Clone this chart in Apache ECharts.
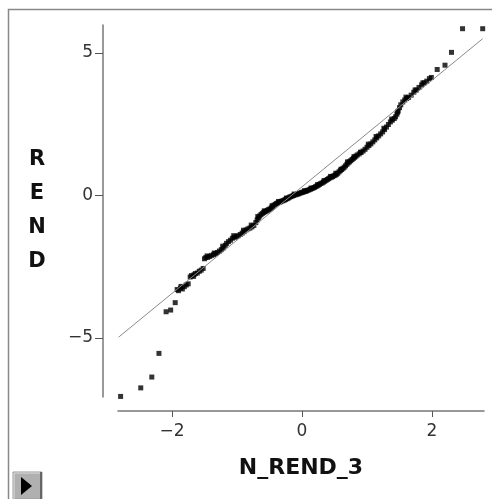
<!DOCTYPE html>
<html><head><meta charset="utf-8">
<script src="https://cdn.jsdelivr.net/npm/echarts@6/dist/echarts.min.js"></script>
<style>html,body{margin:0;padding:0;background:#fff}#c{width:492px;height:499px}</style>
</head><body><div id="c"></div>
<script>
const qqPoints = [
[-2.79,-7.05],[-2.48,-6.75],[-2.31,-6.37],[-2.20,-5.54],[-2.09,-4.08],[-2.02,-4.02],[-1.95,-3.76],
[-1.92,-3.30],[-1.90,-3.34],[-1.87,-3.25],[-1.84,-3.28],[-1.81,-3.20],[-1.78,-3.14],[-1.75,-3.10],[-1.72,-2.86],[-1.70,-2.81],[-1.67,-2.84],[-1.64,-2.74],[-1.61,-2.72],[-1.58,-2.66],[-1.55,-2.62],[-1.52,-2.56],
[-1.50,-2.22],[-1.48,-2.18],[-1.45,-2.17],[-1.42,-2.14],[-1.39,-2.10],[-1.36,-2.08],[-1.33,-2.04],[-1.30,-2.00],[-1.27,-1.95],[-1.24,-1.90],[-1.21,-1.84],[-1.18,-1.75],[-1.16,-1.68],[-1.13,-1.62],[-1.10,-1.57],[-1.07,-1.50],[-1.04,-1.47],[-1.01,-1.44],[-0.98,-1.41],[-0.95,-1.37],[-0.92,-1.32],[-0.89,-1.27],[-0.86,-1.21],[-0.83,-1.17],[-0.80,-1.14],[-0.77,-1.10],[-0.74,-1.05],[-0.71,-0.95],[-0.69,-0.86],[-0.67,-0.79],[-0.65,-0.72],[-0.63,-0.67],[-0.61,-0.63],[-0.59,-0.60],[-0.57,-0.57],[-0.55,-0.55],[-0.53,-0.52],[-0.51,-0.49],[-0.49,-0.47],[-0.47,-0.43],[-0.45,-0.38],[-0.43,-0.34],[-0.41,-0.31],[-0.39,-0.28],[-0.37,-0.26],[-0.35,-0.24],[-0.33,-0.22],[-0.31,-0.20],[-0.29,-0.18],[-0.27,-0.16],[-0.25,-0.14],[-0.23,-0.11],[-0.21,-0.09],[-0.19,-0.06],[-0.17,-0.04],[-0.15,-0.02],[-0.13,0.00],[-0.11,0.02],[-0.09,0.03],[-0.07,0.05],[-0.05,0.06],[-0.03,0.08],[-0.01,0.10],
[0.01,0.11],[0.03,0.13],[0.05,0.14],[0.07,0.16],[0.09,0.18],[0.11,0.20],[0.13,0.22],[0.15,0.24],[0.17,0.26],[0.19,0.28],[0.21,0.31],[0.23,0.33],[0.25,0.36],[0.27,0.39],[0.29,0.42],[0.31,0.44],[0.33,0.47],[0.35,0.50],[0.37,0.53],[0.39,0.56],[0.41,0.59],[0.43,0.62],[0.45,0.64],[0.47,0.66],[0.49,0.69],[0.51,0.71],[0.53,0.74],[0.55,0.78],[0.57,0.83],[0.59,0.87],[0.61,0.91],[0.63,0.95],[0.65,0.99],[0.67,1.04],[0.69,1.09],[0.71,1.14],[0.73,1.18],[0.75,1.22],[0.77,1.26],[0.79,1.30],[0.81,1.34],[0.83,1.38],[0.85,1.42],[0.88,1.46],[0.91,1.51],[0.94,1.56],[0.97,1.62],[1.00,1.69],[1.03,1.75],[1.06,1.81],[1.09,1.88],[1.12,1.95],[1.15,2.02],[1.18,2.09],[1.21,2.16],[1.24,2.23],[1.27,2.31],[1.30,2.40],[1.33,2.49],[1.36,2.58],[1.39,2.64],[1.42,2.70],[1.44,2.76],[1.46,2.85],[1.48,2.96],[1.50,3.08],[1.52,3.18],[1.55,3.28],[1.58,3.35],[1.61,3.40],[1.64,3.44],[1.68,3.52],[1.72,3.62],[1.76,3.70],[1.80,3.79],[1.84,3.88],[1.88,3.95],[1.92,4.01],[1.96,4.10],[1.99,4.14],
[2.08,4.42],[2.20,4.57],[2.30,5.02],[2.47,5.85],[2.78,5.85],
// second row of the thick band
[-1.86,-3.19],[-1.66,-2.78],[-1.46,-2.12],[-1.35,-2.02],[-1.22,-1.78],[-1.05,-1.41],[-0.90,-1.22],[-0.78,-1.04],[-0.68,-0.74],[-0.58,-0.54],[-0.46,-0.36],[-0.36,-0.21],[-0.24,-0.09],[-0.12,0.05],
[0.04,0.17],[0.14,0.26],[0.24,0.38],[0.34,0.52],[0.44,0.67],[0.52,0.78],[0.60,0.92],[0.70,1.18],[0.80,1.36],[0.90,1.52],[1.02,1.80],[1.14,2.07],[1.26,2.36],[1.38,2.68],[1.47,2.92],[1.60,3.45],[1.74,3.70],[1.86,3.95]
];
// Reference line end points
const refLine = [[-2.82,-4.97],[2.78,5.50]];
const xTicks = [-2, 0, 2];
const yTicks = [-5, 0, 5];
const xName = 'N_REND_3';
const yName = 'R\nE\nN\nD';

const fmt = v => String(v).replace('-', '\u2212');
const chart = echarts.init(document.getElementById('c'), null, {renderer: 'canvas'});
const axisFont = {fontFamily: 'DejaVu Sans', fontSize: 17, color: '#333'};
chart.setOption({
  animation: false,
  backgroundColor: '#fff',
  grid: {left: 118, right: 8, top: 25, bottom: 102},
  xAxis: {
    type: 'value', min: -2.83, max: 2.8, offset: 14,
    name: xName, nameLocation: 'middle', nameGap: 46,
    nameTextStyle: {fontFamily: 'DejaVu Sans', fontWeight: 'bold', fontSize: 22, color: '#111'},
    axisLine: {onZero: false, lineStyle: {color: '#777', width: 1.5}},
    axisTick: {customValues: xTicks, length: 6, lineStyle: {color: '#555'}},
    axisLabel: Object.assign({customValues: xTicks, margin: 12, formatter: fmt}, axisFont),
    splitLine: {show: false}
  },
  yAxis: {
    type: 'value', min: -7.07, max: 5.98, offset: 15,
    name: yName, nameLocation: 'middle', nameGap: 66, nameRotate: 0,
    nameTextStyle: {fontFamily: 'DejaVu Sans', fontWeight: 'bold', fontSize: 21, color: '#111', lineHeight: 34, align: 'center', verticalAlign: 'middle'},
    axisLine: {onZero: false, lineStyle: {color: '#777', width: 1.5}},
    axisTick: {customValues: yTicks, length: 8, lineStyle: {color: '#555'}},
    axisLabel: Object.assign({customValues: yTicks, margin: 10, formatter: fmt}, axisFont),
    splitLine: {show: false}
  },
  series: [
    {type: 'line', data: refLine, symbol: 'none', silent: true,
     lineStyle: {color: '#8a8a8a', width: 1}},
    {type: 'scatter', data: qqPoints, symbol: 'rect', symbolSize: 5,
     itemStyle: {color: '#000'}}
  ],
  graphic: [
    {type: 'rect', shape: {x: 8.5, y: 9.5, width: 600, height: 600},
     style: {fill: 'none', stroke: '#888', lineWidth: 1.5}, silent: true},
    {type: 'group', silent: true, children: [
      {type: 'rect', shape: {x: 13, y: 472, width: 29, height: 27}, style: {fill: '#b0b0b0', stroke: '#999', lineWidth: 1}},
      {type: 'polyline', shape: {points: [[41, 472], [41, 499]]}, style: {stroke: '#666', lineWidth: 2}},
      {type: 'polyline', shape: {points: [[14, 499], [14, 473], [40, 473]]}, style: {stroke: '#ddd', lineWidth: 1}},
      {type: 'polygon', shape: {points: [[21, 477], [21, 495], [32, 486]]}, style: {fill: '#000'}}
    ]}
  ]
});
</script>
</body></html>
